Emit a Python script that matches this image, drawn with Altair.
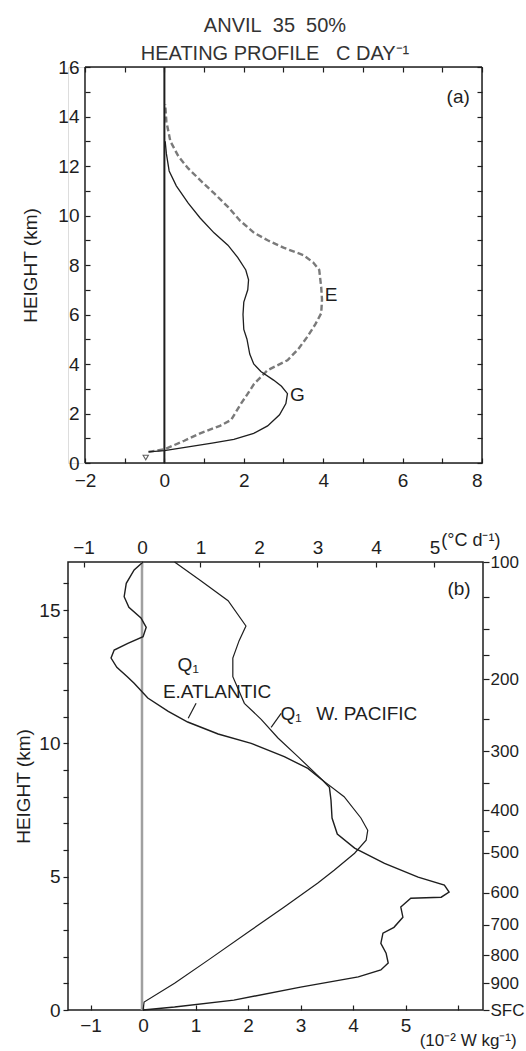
import altair as alt
import pandas as pd

FONT = "Liberation Sans"
INK = "#1e1e1e"
NB = "\u00a0"

# ---------------- Panel (a): heating profile, deg C / day ----------------
TITLE_A = [f"ANVIL{NB}{NB}35{NB}{NB}50%", f"HEATING{NB}PROFILE{NB}{NB}{NB}C{NB}DAY\u207b\u00b9"]
G_X = [-0.4, 0.0, 0.6, 1.2, 1.75, 2.25, 2.6, 2.9, 3.06, 3.1, 2.95, 2.75, 2.43, 2.25, 2.15,
       2.08, 2.0, 1.98, 2.0, 2.1, 2.12, 2.05, 1.85, 1.6, 1.25, 0.9, 0.6, 0.3, 0.12, 0.05, 0.02]
G_Y = [0.45, 0.5, 0.65, 0.8, 0.95, 1.2, 1.5, 1.95, 2.4, 2.8, 3.1, 3.35, 3.7, 4.0, 4.4,
       5.0, 5.4, 6.0, 6.5, 7.0, 7.4, 7.8, 8.3, 8.8, 9.3, 9.9, 10.5, 11.2, 11.8, 12.5, 13.0]
E_X = [-0.4, 0.0, 0.5, 0.9, 1.4, 1.68, 1.93, 2.1, 2.26, 2.6, 3.1, 3.37, 3.6, 3.8, 3.95, 3.97,
       3.95, 3.9, 3.75, 3.5, 3.0, 2.6, 2.26, 1.9, 1.6, 1.25, 0.92, 0.6, 0.35, 0.15, 0.05, 0.02]
E_Y = [0.45, 0.55, 0.9, 1.2, 1.5, 1.74, 2.4, 2.8, 3.2, 3.75, 4.15, 4.6, 5.1, 5.6, 6.05, 6.6,
       7.1, 7.8, 8.1, 8.4, 8.7, 9.0, 9.3, 9.8, 10.35, 10.9, 11.4, 11.9, 12.4, 13.0, 13.8, 14.5]
MARKER_X = [-0.47]
MARKER_Y = [0.22]
LABEL_A_TEXT = ["E", "G", "(a)"]
LABEL_A_X = [4.2, 3.35, 7.4]
LABEL_A_Y = [6.8, 2.75, 14.8]
ZERO_A = [0]
FRAME_A_X = [-2, 8, -2, -2]
FRAME_A_X2 = [-2, 8, 8, 8]
FRAME_A_Y = [0, 0, 0, 16]
FRAME_A_Y2 = [16, 16, 0, 16]
XA_DOMAIN = [-2.428, 8]
YA_DOMAIN = [0, 16]
XA_TICKS = list(range(-2, 9))
YA_TICKS = list(range(0, 17))

# ---------------- Panel (b): Q1 profiles ----------------
EA_X = [0.0, -0.17, -0.32, -0.36, -0.27, -0.04, 0.06, 0.0, -0.29, -0.55, -0.61, -0.5, -0.3,
        -0.17, 0.09, 0.48, 0.85, 1.43, 2.06, 2.69, 3.14, 3.43, 3.55, 3.58, 3.6, 3.7, 4.03,
        4.6, 5.24, 5.74, 5.83, 5.68, 5.1, 4.91, 4.95, 4.78, 4.57, 4.53, 4.63, 4.67, 4.53,
        4.1, 3.0, 1.73, 0.6, 0.0]
EA_Y = [16.8, 16.5, 16.0, 15.5, 15.1, 14.7, 14.35, 14.0, 13.75, 13.5, 13.2, 12.85, 12.5,
        12.25, 11.7, 11.2, 10.8, 10.35, 10.0, 9.5, 9.06, 8.6, 8.35, 7.87, 7.2, 6.6, 6.07,
        5.5, 4.98, 4.68, 4.42, 4.23, 4.19, 3.86, 3.48, 3.1, 2.88, 2.5, 2.13, 1.76, 1.5,
        1.24, 0.86, 0.37, 0.11, 0.0]
WP_X = [0.6, 1.1, 1.62, 1.96, 1.83, 1.71, 1.71, 1.93, 2.25, 2.57, 2.95, 3.27, 3.43, 3.83,
        4.15, 4.28, 4.25, 4.03, 3.64, 3.33, 2.69, 2.06, 1.24, 0.6, 0.02, 0.0]
WP_Y = [16.8, 16.1, 15.35, 14.4, 13.85, 13.2, 12.5, 11.5, 10.9, 10.2, 9.5, 8.9, 8.6, 8.0,
        7.2, 6.74, 6.37, 5.88, 5.24, 4.76, 3.86, 3.0, 1.87, 1.0, 0.3, 0.0]
LABEL_B_C_TEXT = ["Q\u2081", "E.ATLANTIC", "Q\u2081", "(b)"]
LABEL_B_C_X = [0.86, 1.41, 2.82, 6.02]
LABEL_B_C_Y = [12.92, 11.91, 11.09, 15.77]
LABEL_B_L_TEXT = ["W. PACIFIC", "(\u00b0C d\u207b\u00b9)", "(10\u207b\u00b2 W kg\u207b\u00b9)"]
LABEL_B_L_X = [3.3, 5.68, 5.27]
LABEL_B_L_Y = [11.09, 17.6, -1.15]
LABEL_B_L_SIZE = [19, 18, 17]
POINTER_X = [1.01, 2.63]
POINTER_Y = [11.5, 11.12]
POINTER_X2 = [0.86, 2.44]
POINTER_Y2 = [10.94, 10.6]
XB_DOMAIN = [-1.43, 6.476]          # 10^-2 W kg^-1 (bottom)
XB_TOP_DOMAIN = [-1.265, 5.83]      # deg C per day (top)
YB_DOMAIN = [0, 16.8]
XB_TICKS = list(range(-1, 7))
XB_TOP_TICKS = list(range(-1, 6))
YB_TICKS = list(range(0, 17))
P_HEIGHTS = [16.8, 15.5, 14.3, 13.3, 12.4, 10.9, 9.7, 8.5, 7.5, 6.7, 5.9, 4.4, 3.2, 2.05, 1.0, 0.0]
P_LABELS = ["100", "", "", "", "200", "", "300", "", "400", "", "500", "600", "700", "800", "900", "SFC"]
ZERO_B = [0]


def seq_df(xs, ys):
    return pd.DataFrame({"x": xs, "y": ys, "i": list(range(len(xs)))})


lab = dict(labelFont=FONT, labelFontSize=19, labelColor=INK, tickColor=INK,
           titleFont=FONT, titleFontSize=19, titleFontWeight="normal", titleColor=INK, grid=False)

# ---------- panel A ----------
ax_a_bottom = alt.Axis(values=XA_TICKS, labelExpr="datum.value % 2 == 0 ? datum.label : ''",
                       offset=-5, tickSize=5, tickWidth=1.2, domain=False, title=None,
                       labelPadding=8, **lab)
ax_a_left = alt.Axis(values=YA_TICKS, labelExpr="datum.value % 2 == 0 ? datum.label : ''",
                     offset=-22, tickSize=5, tickWidth=1.2, domain=False, title="HEIGHT (km)",
                     labelPadding=6, titlePadding=17, **lab)
ax_a_top = alt.Axis(orient="top", values=XA_TICKS, labels=False, offset=-5, tickSize=5,
                    tickWidth=1.2, domain=False, title=None, **lab)
ax_a_right = alt.Axis(orient="right", values=YA_TICKS, labels=False, offset=-5, tickSize=5,
                      tickWidth=1.2, domain=False, title=None, **lab)

sxa = alt.Scale(domain=XA_DOMAIN, nice=False, zero=False)
sya = alt.Scale(domain=YA_DOMAIN, nice=False, zero=False)
XA = alt.X("x:Q", scale=sxa, axis=ax_a_bottom)
YA = alt.Y("y:Q", scale=sya, axis=ax_a_left)

frame_a = alt.Chart(pd.DataFrame({"x": FRAME_A_X, "x2": FRAME_A_X2, "y": FRAME_A_Y,
                                  "y2": FRAME_A_Y2})).mark_rule(color=INK, strokeWidth=1.5).encode(
    x=XA, y=YA, x2="x2:Q", y2="y2:Q")
g_line = alt.Chart(seq_df(G_X, G_Y)).mark_line(color=INK, strokeWidth=1.3).encode(
    x=XA, y=YA, order="i:Q")
e_line = alt.Chart(seq_df(E_X, E_Y)).mark_line(color="#7a7a7a", strokeWidth=2.4,
                                                strokeDash=[6, 3]).encode(x=XA, y=YA, order="i:Q")
marker = alt.Chart(pd.DataFrame({"x": MARKER_X, "y": MARKER_Y})).mark_point(
    shape="triangle-down", size=28, color=INK, strokeWidth=1.1, filled=False).encode(x=XA, y=YA)
text_a = alt.Chart(pd.DataFrame({"x": LABEL_A_X, "y": LABEL_A_Y, "t": LABEL_A_TEXT})).mark_text(
    font=FONT, fontSize=19, color=INK, align="center", baseline="middle").encode(x=XA, y=YA, text="t:N")

zero_a = alt.Chart(pd.DataFrame({"x": ZERO_A, "y0": [YA_DOMAIN[0]], "y1": [YA_DOMAIN[1]]})).mark_rule(
    color=INK, strokeWidth=2).encode(
    x=alt.X("x:Q", scale=sxa, axis=ax_a_top),
    y=alt.Y("y0:Q", scale=sya, axis=ax_a_right), y2="y1:Q")

panel_a = alt.layer(alt.layer(frame_a, e_line, g_line, marker, text_a), zero_a).resolve_scale(
    x="independent", y="independent").properties(
    width=414, height=396,
    title=alt.TitleParams(TITLE_A, font=FONT, fontSize=20, fontWeight="normal", color="#333",
                          anchor="middle", offset=-6, lineHeight=28))

# ---------- panel B ----------
ax_b_bottom = alt.Axis(values=XB_TICKS, labelExpr="datum.value == 6 ? '' : datum.label",
                       offset=-5, tickSize=5, tickWidth=1.2, domain=False, title=None,
                       labelPadding=6, **lab)
ax_b_left = alt.Axis(values=YB_TICKS, labelExpr="datum.value % 5 == 0 ? datum.label : ''",
                     tickSize=5, tickWidth=1.2, domain=False, title="HEIGHT (km)",
                     labelPadding=3, titlePadding=5, **lab)
ax_b_top = alt.Axis(orient="top", values=XB_TOP_TICKS, offset=-5, tickSize=5, tickWidth=1.2,
                    domain=False, title=None, labelPadding=5, **lab)
p_expr = " : ".join(f"datum.value == {h} ? '{l}'" for h, l in zip(P_HEIGHTS, P_LABELS)) + " : ''"
lab_r = dict(lab, labelFontSize=17)
ax_b_right = alt.Axis(orient="right", values=P_HEIGHTS, labelExpr=p_expr, tickSize=6,
                      tickWidth=1.2, domain=False, title=None, labelPadding=1, **lab_r)

sxb = alt.Scale(domain=XB_DOMAIN, nice=False, zero=False)
syb = alt.Scale(domain=YB_DOMAIN, nice=False, zero=False)
XB = alt.X("x:Q", scale=sxb, axis=ax_b_bottom)
YB = alt.Y("y:Q", scale=syb, axis=ax_b_left)

ea_line = alt.Chart(seq_df(EA_X, EA_Y)).mark_line(color=INK, strokeWidth=1.4).encode(
    x=XB, y=YB, order="i:Q")
wp_line = alt.Chart(seq_df(WP_X, WP_Y)).mark_line(color=INK, strokeWidth=1.2).encode(
    x=XB, y=YB, order="i:Q")
pointers = alt.Chart(pd.DataFrame({"x": POINTER_X, "y": POINTER_Y, "x2": POINTER_X2,
                                   "y2": POINTER_Y2})).mark_rule(color=INK, strokeWidth=1.2).encode(
    x=XB, y=YB, x2="x2:Q", y2="y2:Q")
text_b_c = alt.Chart(pd.DataFrame({"x": LABEL_B_C_X, "y": LABEL_B_C_Y, "t": LABEL_B_C_TEXT})).mark_text(
    font=FONT, fontSize=19, color=INK, align="center", baseline="middle").encode(x=XB, y=YB, text="t:N")
text_b_l = alt.Chart(pd.DataFrame({"x": LABEL_B_L_X, "y": LABEL_B_L_Y, "t": LABEL_B_L_TEXT,
                                   "s": LABEL_B_L_SIZE})).mark_text(
    font=FONT, color=INK, align="left", baseline="middle").encode(
    x=XB, y=YB, text="t:N", size=alt.Size("s:Q", scale=None, legend=None))

zero_b = alt.Chart(pd.DataFrame({"x": ZERO_B, "y0": [YB_DOMAIN[0]], "y1": [YB_DOMAIN[1]]})).mark_rule(
    color="#a0a0a0", strokeWidth=2.5).encode(
    x=alt.X("x:Q", scale=alt.Scale(domain=XB_TOP_DOMAIN, nice=False, zero=False), axis=ax_b_top),
    y=alt.Y("y0:Q", scale=syb, axis=ax_b_right), y2="y1:Q")

panel_b = alt.layer(zero_b, alt.layer(ea_line, wp_line, pointers, text_b_c, text_b_l)).resolve_scale(
    x="independent", y="independent").properties(
    width=415, height=448, view=alt.ViewBackground(stroke=INK, strokeWidth=1.5))

chart = alt.vconcat(panel_a, panel_b, spacing=99, bounds="flush").properties(
    padding={"left": 14, "top": 15, "right": 0, "bottom": 0}
).configure_view(stroke=None).configure(background="white")

chart.save("out.html", embed_options={"renderer": "svg", "actions": False})
